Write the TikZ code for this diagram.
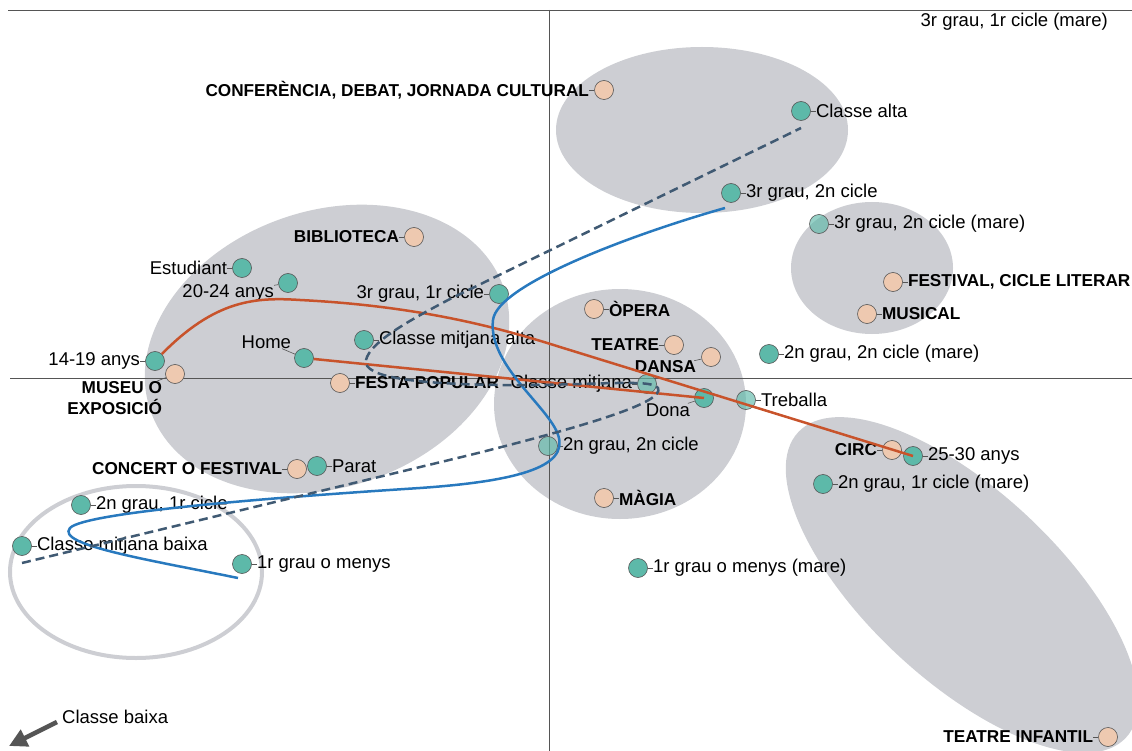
\documentclass[tikz,border=0pt]{standalone}
\usepackage{fontspec}
\setmainfont{Liberation Sans}
\definecolor{Teal}{RGB}{93, 185, 169}
\definecolor{Peach}{RGB}{238, 201, 176}
\definecolor{Cloud}{RGB}{205, 206, 211}
\definecolor{Rust}{RGB}{200, 83, 43}
\definecolor{Sea}{RGB}{40, 121, 190}
\definecolor{Slate}{RGB}{64, 90, 115}
\definecolor{Ink}{RGB}{85, 85, 85}
\usetikzlibrary{arrows.meta, positioning, calc}

\tikzset{
  dot/.style={circle, draw=Ink, line width=0.6pt, minimum size=19pt, inner sep=0pt},
  grp/.style={dot, fill=Teal},
  grplight/.style={dot, fill=Teal, fill opacity=0.65},
  act/.style={dot, fill=Peach},
  lbl/.style={inner sep=0pt, font=\fontsize{18.5}{21}\selectfont},
  actlbl/.style={inner sep=0pt, font=\bfseries\fontsize{17.2}{21}\selectfont},
  tick/.style={draw=Ink, line width=0.6pt},
  zone/.style={fill=Cloud},
  axis/.style={draw=Ink, line width=0.8pt},
  trend/.style={draw=Rust, line width=2.5pt},
  edu/.style={draw=Sea, line width=2.5pt},
  cls/.style={draw=Slate, line width=2.5pt, dash pattern=on 9pt off 5pt},
}

\begin{document}
\begin{tikzpicture}[x=1pt, y=-1pt]
\useasboundingbox (0,0) rectangle (1132,751);

% groups
\fill[zone] (702,130) ellipse (146pt and 83pt);
\fill[zone] (872,268) ellipse (81pt and 66pt);
\fill[zone, rotate around={19.5:(327,349)}] (327,349) ellipse (187pt and 138pt);
\fill[zone] (620,404) ellipse (126pt and 115pt);
\fill[zone, rotate around={-43:(962,585)}] (962,585) ellipse (224pt and 95pt);
\draw[Cloud, line width=4pt] (136,572) ellipse (126pt and 86pt);

% axes
\draw[axis] (8,10) -- (1132,10);
\draw[axis] (10,378) -- (1132,378);
\draw[axis] (549,10) -- (549,751);

% social groups
\node[grp] (clalta) at (801,111) {};
\node[lbl, right=5pt of clalta] (clalta-t) {Classe alta};
\node[grp] (tgsc) at (731,193) {};
\node[lbl, right=5pt of tgsc] (tgsc-t) {3r grau, 2n cicle};
\node[grplight] (tgscm) at (819,224) {};
\node[lbl, right=5pt of tgscm] (tgscm-t) {3r grau, 2n cicle (mare)};
\node[grp] (sgscm) at (769,354) {};
\node[lbl, right=5pt of sgscm] (sgscm-t) {2n grau, 2n cicle (mare)};
\node[grp] (estud) at (242,268) {};
\node[lbl, left=5pt of estud] (estud-t) {Estudiant};
\node[grp] (a2024) at (288,283) {};
\node[lbl, left=4pt of a2024, yshift=-10pt] (a2024-t) {20-24 anys};
\node[grp] (tgpc) at (499,294) {};
\node[lbl, left=5pt of tgpc] (tgpc-t) {3r grau, 1r cicle};
\node[grp] (cmalta) at (364,340) {};
\node[lbl, right=5pt of cmalta] (cmalta-t) {Classe mitjana alta};
\node[grp] (home) at (304,358) {};
\node[lbl, left=3pt of home, yshift=16pt] (home-t) {Home};
\node[grp] (a1419) at (155,361) {};
\node[lbl, left=5pt of a1419] (a1419-t) {14-19 anys};
\node[grplight] (cmitj) at (647,384) {};
\node[lbl, left=5pt of cmitj] (cmitj-t) {Classe mitjana};
\node[grp] (dona) at (704,398) {};
\node[lbl, left=4pt of dona, yshift=-12pt] (dona-t) {Dona};
\node[grplight] (treb) at (746,400) {};
\node[lbl, right=5pt of treb] (treb-t) {Treballa};
\node[grplight] (sgsc) at (548,446) {};
\node[lbl, right=5pt of sgsc] (sgsc-t) {2n grau, 2n cicle};
\node[grp] (parat) at (317,466) {};
\node[lbl, right=5pt of parat] (parat-t) {Parat};
\node[grp] (a2530) at (913,456) {};
\node[lbl, right=5pt of a2530] (a2530-t) {25-30 anys};
\node[grp] (sgpcm) at (823,484) {};
\node[lbl, right=5pt of sgpcm] (sgpcm-t) {2n grau, 1r cicle (mare)};
\node[grp] (sgpc) at (81,505) {};
\node[lbl, right=5pt of sgpc] (sgpc-t) {2n grau, 1r cicle};
\node[grp] (cmbaixa) at (22,546) {};
\node[lbl, right=5pt of cmbaixa] (cmbaixa-t) {Classe mitjana baixa};
\node[grp] (pgm) at (242,564) {};
\node[lbl, right=5pt of pgm] (pgm-t) {1r grau o menys};
\node[grp] (pgmm) at (638,568) {};
\node[lbl, right=5pt of pgmm] (pgmm-t) {1r grau o menys (mare)};
\node[lbl, anchor=east] (tgpcm-t) at (1108,22) {3r grau, 1r cicle (mare)};

% activities
\node[act] (confer) at (604,90) {};
\node[actlbl, left=5pt of confer] (confer-t) {CONFERÈNCIA, DEBAT, JORNADA CULTURAL};
\node[act] (biblio) at (414,237) {};
\node[actlbl, left=5pt of biblio] (biblio-t) {BIBLIOTECA};
\node[act] (festlit) at (893,282) {};
\node[actlbl, right=5pt of festlit] (festlit-t) {FESTIVAL, CICLE LITERAR};
\node[act] (musical) at (867,314) {};
\node[actlbl, right=5pt of musical] (musical-t) {MUSICAL};
\node[act] (opera) at (594,309) {};
\node[actlbl, right=5pt of opera] (opera-t) {ÒPERA};
\node[act] (teatre) at (674,345) {};
\node[actlbl, left=5pt of teatre] (teatre-t) {TEATRE};
\node[act] (dansa) at (711,357) {};
\node[actlbl, left=5pt of dansa, yshift=-10pt] (dansa-t) {DANSA};
\node[act] (museu) at (175,374) {};
\node[actlbl, align=right, left=3pt of museu, yshift=-24pt] (museu-t) {MUSEU O\\EXPOSICIÓ};
\node[act] (festapop) at (340,383) {};
\node[actlbl, right=5pt of festapop] (festapop-t) {FESTA POPULAR};
\node[act] (circ) at (892,450) {};
\node[actlbl, left=5pt of circ] (circ-t) {CIRC};
\node[act] (concert) at (297,469) {};
\node[actlbl, left=5pt of concert] (concert-t) {CONCERT O FESTIVAL};
\node[act] (magia) at (604,498) {};
\node[actlbl, right=5pt of magia] (magia-t) {MÀGIA};
\node[act] (tinf) at (1108,737) {};
\node[actlbl, left=5pt of tinf] (tinf-t) {TEATRE INFANTIL};

\foreach \n in {clalta, tgsc, tgscm, sgscm, estud, a2024, tgpc, cmalta, home, a1419,
  cmitj, dona, treb, sgsc, parat, a2530, sgpcm, sgpc, cmbaixa, pgm, pgmm,
  confer, biblio, festlit, musical, opera, teatre, dansa, museu, festapop,
  circ, concert, magia, tinf}
  \draw[tick] (\n) -- (\n-t);

% trajectories
\coordinate (pgm-end) at (238,578);
\coordinate (tgsc-end) at (725,208);
\coordinate (cmbaixa-end) at (22,563);
\coordinate (clalta-end) at (801,128);

\draw[trend] (a1419) .. controls (215,300) and (255,297) .. (300,300)
  .. controls (420,306) and (500,328) .. (560,347) -- (a2530.center);
\draw[trend] (home) -- (dona.center);

\draw[edu] (pgm-end) .. controls (150,560) and (55,545) .. (70,528)
  .. controls (85,512) and (280,497) .. (420,488)
  .. controls (535,480) and (572,462) .. (556,430)
  .. controls (542,402) and (488,362) .. (493,320)
  .. controls (497,285) and (630,235) .. (tgsc-end);

\draw[cls] (cmbaixa-end) -- (470,455)
  .. controls (590,425) and (665,402) .. (658,388)
  .. controls (652,378) and (590,386) .. (500,385)
  .. controls (420,384) and (362,378) .. (366,360)
  .. controls (370,342) and (410,320) .. (450,299) -- (clalta-end);

% lower class pointer
\node[lbl, anchor=west] (baixa-t) at (62,717) {Classe baixa};
\coordinate (baixa-from) at (57,722);
\coordinate (baixa-to) at (9,746);
\draw[Ink, line width=4.5pt, -{Triangle[length=18pt, width=18pt]}] (baixa-from) -- (baixa-to);
\end{tikzpicture}
\end{document}
